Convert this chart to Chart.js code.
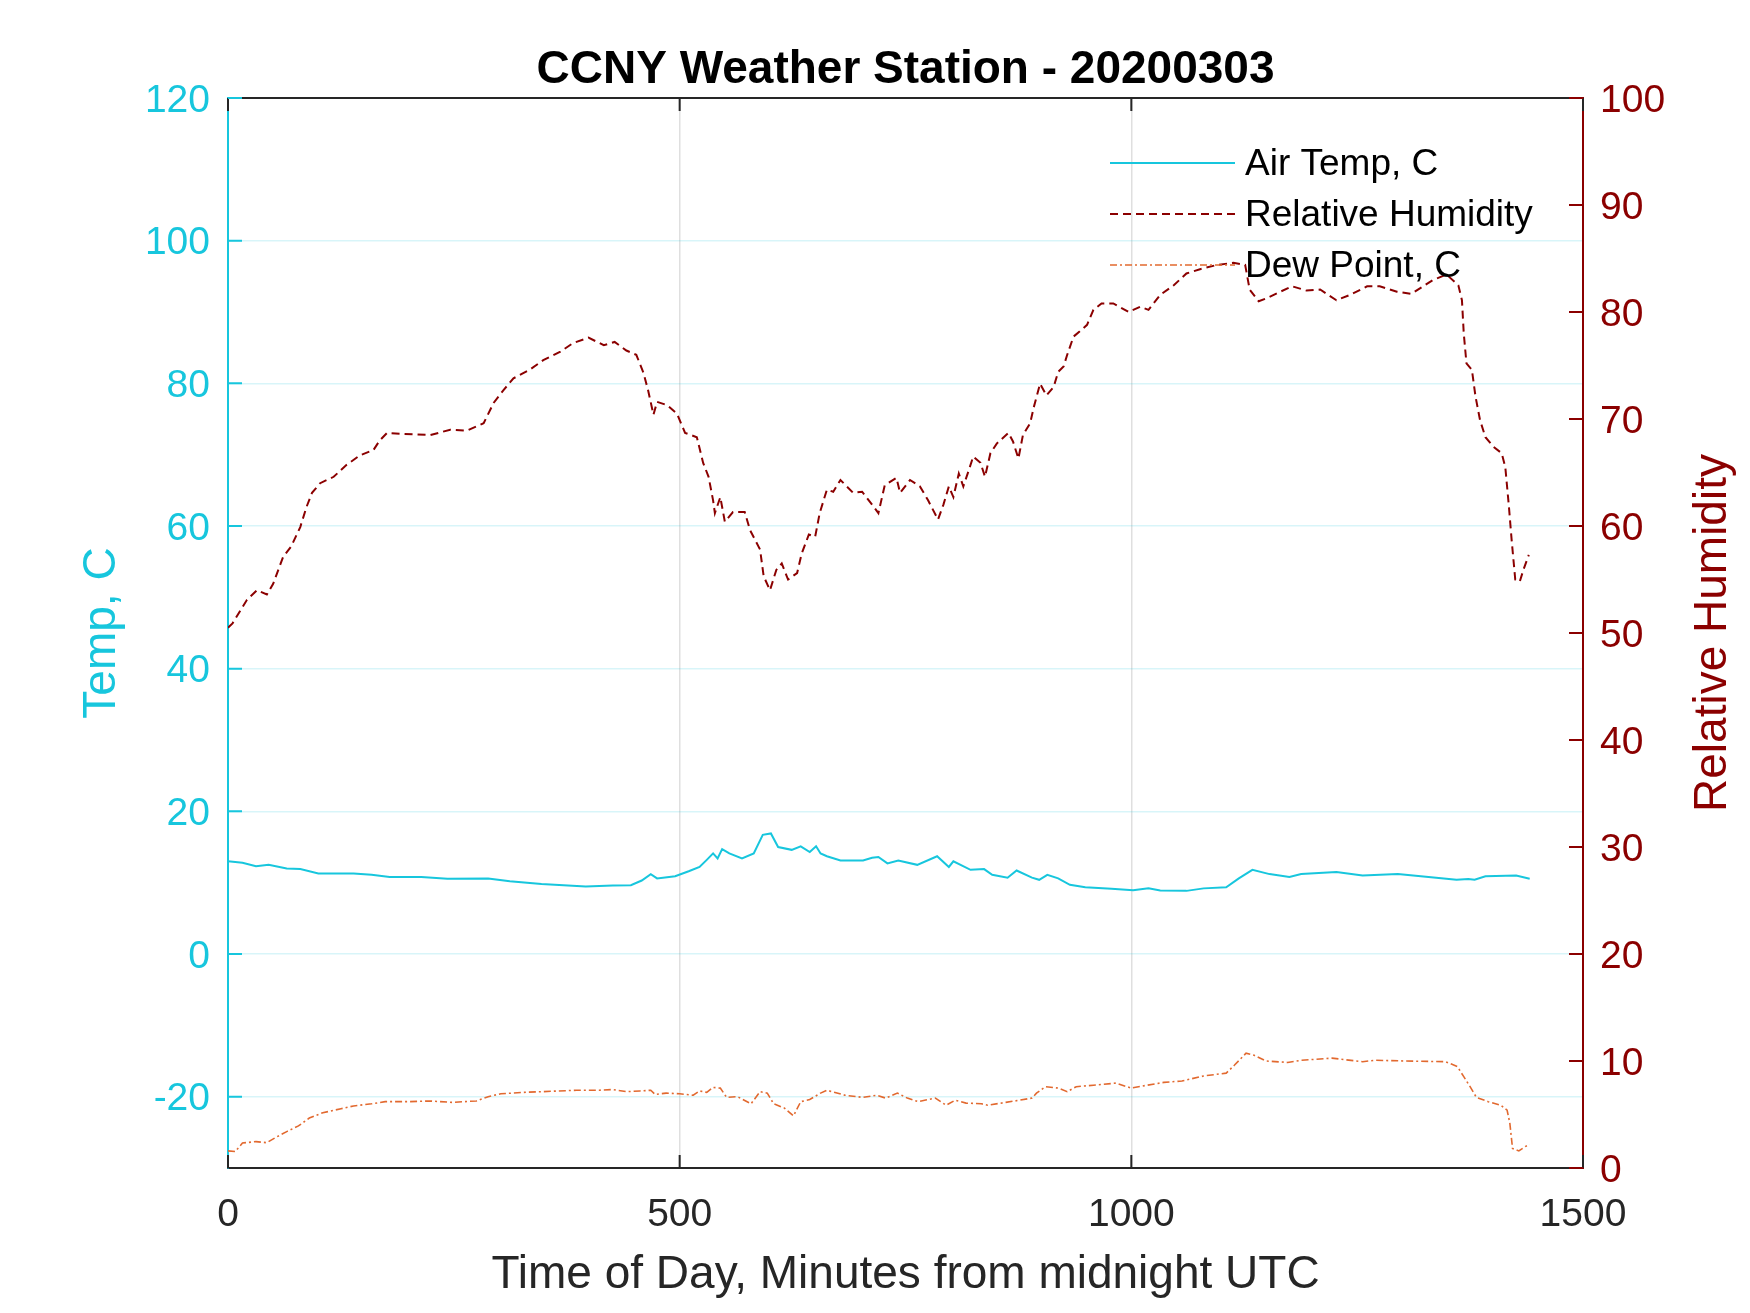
<!DOCTYPE html>
<html>
<head>
<meta charset="utf-8">
<title>CCNY Weather Station - 20200303</title>
<script src="https://cdn.jsdelivr.net/npm/chart.js@4.4.1/dist/chart.umd.min.js"></script>
<style>
  html, body { margin: 0; padding: 0; background: #fff; }
  #wrap { width: 1750px; height: 1313px; }
</style>
</head>
<body>
<div id="wrap"><canvas id="wxChart" width="1750" height="1313"></canvas></div>
<script>
// values (minutes from midnight UTC)
const tempMinutes = [0, 16, 31, 45, 65, 80, 100, 139, 159, 179, 214, 243, 288, 312, 347, 396, 426, 446, 458, 468,
  475, 495, 510, 522, 530, 537, 542, 547, 555, 569, 582, 592, 601, 609, 624, 634, 644, 651, 656, 663,
  678, 703, 713, 720, 730, 742, 763, 785, 798, 803, 822, 837, 846, 863, 873, 890, 898, 907, 919, 932,
  949, 978, 1002, 1019, 1032, 1061, 1080, 1105, 1119, 1134, 1153, 1175, 1188, 1227, 1256, 1295, 1329, 1360, 1373, 1380,
  1392, 1426, 1441];
const tempC = [13.0, 12.8, 12.3, 12.5, 12.0, 11.9, 11.3, 11.3, 11.1, 10.8, 10.8, 10.55, 10.6, 10.2, 9.8, 9.45, 9.6, 9.65, 10.3, 11.2,
  10.6, 10.9, 11.6, 12.2, 13.2, 14.1, 13.4, 14.7, 14.1, 13.4, 14.1, 16.7, 16.9, 15.0, 14.6, 15.1, 14.3, 15.1, 14.1, 13.7,
  13.1, 13.1, 13.5, 13.6, 12.7, 13.1, 12.5, 13.7, 12.2, 13.0, 11.8, 11.9, 11.1, 10.7, 11.7, 10.7, 10.4, 11.1, 10.6, 9.7,
  9.35, 9.15, 8.95, 9.2, 8.9, 8.85, 9.2, 9.35, 10.6, 11.8, 11.2, 10.8, 11.2, 11.5, 11.0, 11.2, 10.8, 10.4, 10.5, 10.4,
  10.9, 11.0, 10.55];

const rhMinutes = [0, 5, 21, 32, 43, 50, 61, 70, 80, 87, 93, 102, 117, 131, 146, 161, 168, 176, 194, 224,
  246, 264, 283, 294, 305, 316, 334, 349, 368, 382, 399, 416, 428, 441, 452, 460, 465, 471, 475, 486,
  497, 506, 519, 526, 532, 537, 539, 545, 550, 559, 572, 578, 589, 593, 600, 607, 613, 620, 630, 635,
  643, 650, 655, 663, 670, 678, 692, 702, 713, 720, 727, 740, 744, 755, 766, 775, 786, 792, 798, 803,
  809, 814, 820, 825, 833, 838, 844, 851, 864, 869, 875, 880, 888, 892, 899, 906, 914, 919, 925, 929,
  936, 943, 951, 958, 967, 980, 997, 1010, 1019, 1032, 1047, 1061, 1076, 1095, 1113, 1126, 1131, 1141, 1150, 1165,
  1178, 1194, 1209, 1227, 1242, 1261, 1275, 1294, 1310, 1323, 1334, 1349, 1362, 1366, 1368, 1371, 1377, 1381, 1386, 1392,
  1401, 1410, 1414, 1418, 1421, 1425, 1430, 1434, 1440];
const rhPct = [50.5, 50.9, 53.1, 54.0, 53.6, 54.6, 57.1, 58.1, 59.9, 61.8, 63.1, 64.0, 64.6, 65.7, 66.6, 67.1, 68.0, 68.7, 68.6, 68.5,
  69.0, 68.9, 69.6, 71.5, 72.7, 73.8, 74.6, 75.5, 76.3, 77.1, 77.6, 76.9, 77.2, 76.4, 76.0, 74.3, 72.7, 70.4, 71.6, 71.3,
  70.5, 68.7, 68.3, 65.9, 64.6, 62.4, 61.2, 62.7, 60.4, 61.3, 61.3, 59.6, 57.8, 55.3, 54.0, 55.9, 56.5, 55.0, 55.6, 57.4,
  59.2, 59.0, 61.2, 63.4, 63.2, 64.3, 63.1, 63.2, 62.0, 61.2, 63.8, 64.5, 63.1, 64.3, 63.7, 62.4, 60.6, 62.0, 63.7, 62.7,
  64.9, 63.7, 65.2, 66.5, 65.9, 64.6, 66.8, 67.7, 68.7, 67.9, 66.3, 68.5, 69.6, 71.1, 73.3, 72.2, 73.0, 74.4, 74.9, 76.0,
  77.7, 78.2, 78.8, 80.2, 80.8, 80.8, 80.0, 80.5, 80.2, 81.6, 82.5, 83.6, 84.0, 84.4, 84.6, 84.4, 82.1, 81.0, 81.3, 81.9,
  82.4, 82.0, 82.1, 81.1, 81.6, 82.4, 82.4, 81.9, 81.7, 82.4, 83.0, 83.5, 82.5, 81.1, 78.0, 75.2, 74.6, 72.1, 69.9, 68.3,
  67.4, 66.8, 65.5, 61.8, 58.7, 55.0, 54.8, 55.9, 57.3];

const dewMinutes = [0, 8, 16, 31, 43, 53, 65, 78, 90, 105, 125, 139, 159, 174, 199, 223, 248, 275, 288, 302,
  327, 347, 386, 411, 426, 441, 456, 468, 473, 485, 500, 515, 522, 530, 537, 545, 552, 564, 579, 589,
  597, 604, 616, 626, 634, 644, 656, 663, 683, 703, 718, 728, 741, 752, 764, 783, 795, 805, 817, 834,
  841, 861, 876, 890, 895, 905, 919, 929, 939, 958, 983, 1000, 1017, 1036, 1056, 1080, 1105, 1114, 1127, 1136,
  1149, 1173, 1188, 1222, 1256, 1270, 1304, 1348, 1361, 1368, 1375, 1382, 1395, 1409, 1416, 1419, 1422, 1429, 1436, 1441];
const dewC = [-27.6, -27.7, -26.5, -26.3, -26.45, -25.7, -24.9, -24.1, -23.0, -22.25, -21.7, -21.3, -21.0, -20.7, -20.7, -20.6, -20.8, -20.6, -20.0, -19.6,
  -19.4, -19.3, -19.1, -19.1, -19.0, -19.3, -19.2, -19.1, -19.7, -19.5, -19.6, -19.8, -19.2, -19.4, -18.7, -18.8, -20.1, -20.0, -21.0, -19.3,
  -19.5, -21.0, -21.6, -22.7, -20.7, -20.4, -19.5, -19.1, -19.8, -20.1, -19.8, -20.2, -19.5, -20.2, -20.7, -20.2, -21.2, -20.5, -20.9, -21.0,
  -21.2, -20.8, -20.5, -20.2, -19.5, -18.6, -18.8, -19.3, -18.6, -18.4, -18.1, -18.8, -18.4, -18.0, -17.8, -17.1, -16.7, -15.6, -13.9, -14.2,
  -15.0, -15.2, -14.9, -14.6, -15.1, -14.9, -15.0, -15.1, -15.8, -17.2, -18.6, -20.1, -20.7, -21.2, -21.9, -23.7, -27.25, -27.6, -27.0, -26.7];

const xTicks = [0, 500, 1000, 1500];
const tempTicks = [-20, 0, 20, 40, 60, 80, 100, 120];
const rhTicks = [0, 10, 20, 30, 40, 50, 60, 70, 80, 90, 100];

const CYAN = '#17C6DD';
const DARKRED = '#8B0000';
const ORANGE = '#E2692F';
const AXIS = '#262626';
const FONT = "'Liberation Sans', Arial, Helvetica, sans-serif";

function toPoints(xs, ys) {
  return xs.map((x, i) => ({ x: x, y: ys[i] }));
}

Chart.defaults.font.family = FONT;

// MATLAB style box: title over the axes, top edge, inward ticks,
// legend without box, right label read bottom-up
const matlabFrame = {
  id: 'matlabFrame',
  afterDraw(chart, args, opts) {
    const ctx = chart.ctx;
    const area = chart.chartArea;
    const sx = chart.scales.x, sy = chart.scales.y, sy1 = chart.scales.y1;
    ctx.save();

    ctx.fillStyle = '#000';
    ctx.font = 'bold 46px ' + FONT;
    ctx.textAlign = 'center';
    ctx.textBaseline = 'middle';
    ctx.fillText(opts.title, (area.left + area.right) / 2, 70);

    ctx.lineWidth = 2;
    ctx.strokeStyle = AXIS;
    ctx.beginPath();
    ctx.moveTo(area.left, area.top);
    ctx.lineTo(area.right, area.top);
    ctx.stroke();

    ctx.beginPath();
    sx.ticks.forEach(t => {
      const px = sx.getPixelForValue(t.value);
      ctx.moveTo(px, area.bottom); ctx.lineTo(px, area.bottom - 13);
      ctx.moveTo(px, area.top); ctx.lineTo(px, area.top + 13);
    });
    ctx.stroke();

    ctx.strokeStyle = CYAN;
    ctx.beginPath();
    sy.ticks.forEach(t => {
      const py = sy.getPixelForValue(t.value);
      ctx.moveTo(area.left, py); ctx.lineTo(area.left + 14, py);
    });
    ctx.stroke();

    ctx.strokeStyle = DARKRED;
    ctx.beginPath();
    sy1.ticks.forEach(t => {
      const py = sy1.getPixelForValue(t.value);
      ctx.moveTo(area.right, py); ctx.lineTo(area.right - 14, py);
    });
    ctx.stroke();

    // right axis title
    ctx.save();
    ctx.translate(sy1.right - 37, (area.top + area.bottom) / 2);
    ctx.rotate(-Math.PI / 2);
    ctx.fillStyle = DARKRED;
    ctx.font = '46px ' + FONT;
    ctx.fillText(sy1.options.title.text, 0, 0);
    ctx.restore();

    // legend
    ctx.font = '37px ' + FONT;
    ctx.textAlign = 'left';
    chart.data.datasets.forEach((ds, i) => {
      const y = area.top + 65 + i * 51;
      const x0 = area.right - 473;
      ctx.strokeStyle = ds.borderColor;
      ctx.lineWidth = ds.borderWidth;
      ctx.setLineDash(ds.borderDash || []);
      ctx.beginPath();
      ctx.moveTo(x0, y);
      ctx.lineTo(x0 + 125, y);
      ctx.stroke();
      ctx.setLineDash([]);
      ctx.fillStyle = '#000';
      ctx.fillText(ds.label, x0 + 135, y + 2);
    });
    ctx.restore();
  }
};

const ctx = document.getElementById('wxChart').getContext('2d');

const wxChart = new Chart(ctx, {
  type: 'line',
  data: {
    datasets: [{
      label: 'Air Temp, C',
      data: toPoints(tempMinutes, tempC),
      yAxisID: 'y',
      borderColor: CYAN,
      borderWidth: 2,
      pointRadius: 0,
      tension: 0
    }, {
      label: 'Relative Humidity',
      data: toPoints(rhMinutes, rhPct),
      yAxisID: 'y1',
      borderColor: DARKRED,
      borderWidth: 2,
      borderDash: [8, 5],
      pointRadius: 0,
      tension: 0
    }, {
      label: 'Dew Point, C',
      data: toPoints(dewMinutes, dewC),
      yAxisID: 'y',
      borderColor: ORANGE,
      borderWidth: 1.6,
      borderDash: [7, 3, 2, 3],
      pointRadius: 0,
      tension: 0
    }]
  },
  options: {
    responsive: false,
    devicePixelRatio: 1,
    animation: false,
    layout: { padding: { top: 98, left: 0, right: 0, bottom: 0 } },
    plugins: {
      legend: { display: false },
      tooltip: { enabled: false },
      title: { display: false },
      matlabFrame: { title: 'CCNY Weather Station - 20200303' }
    },
    scales: {
      x: {
        type: 'linear',
        position: 'bottom',
        min: 0,
        max: 1500,
        afterBuildTicks: s => { s.ticks = xTicks.map(v => ({ value: v })); },
        afterFit: s => { s.height = 145; },
        ticks: {
          color: AXIS, font: { size: 39 }, padding: 24, maxRotation: 0, autoSkip: false,
          callback: v => String(v)
        },
        grid: { color: 'rgba(38,38,38,0.15)', lineWidth: 1.5, drawTicks: false },
        border: { color: AXIS, width: 2 },
        title: {
          display: true,
          text: 'Time of Day, Minutes from midnight UTC',
          color: AXIS,
          font: { size: 46 },
          padding: { top: 0, bottom: 10 }
        }
      },
      y: {
        type: 'linear',
        position: 'left',
        min: -30,
        max: 120,
        afterBuildTicks: s => { s.ticks = tempTicks.map(v => ({ value: v })); },
        afterFit: s => { s.width = 228; },
        ticks: { color: CYAN, font: { size: 39 }, padding: 18, labelOffset: 3 },
        grid: { color: 'rgba(23,198,221,0.17)', lineWidth: 1.5, drawTicks: false },
        border: { color: CYAN, width: 2 },
        title: {
          display: true,
          text: 'Temp, C',
          color: CYAN,
          font: { size: 46 },
          padding: { top: 75, bottom: 0 }
        }
      },
      y1: {
        type: 'linear',
        position: 'right',
        min: 0,
        max: 100,
        afterBuildTicks: s => { s.ticks = rhTicks.map(v => ({ value: v })); },
        afterFit: s => { s.width = 167; },
        ticks: { color: DARKRED, font: { size: 39 }, padding: 17, labelOffset: 3 },
        grid: { drawOnChartArea: false, drawTicks: false },
        border: { color: DARKRED, width: 2 },
        title: { display: false, text: 'Relative Humidity' }
      }
    }
  },
  plugins: [matlabFrame]
});
</script>
</body>
</html>
